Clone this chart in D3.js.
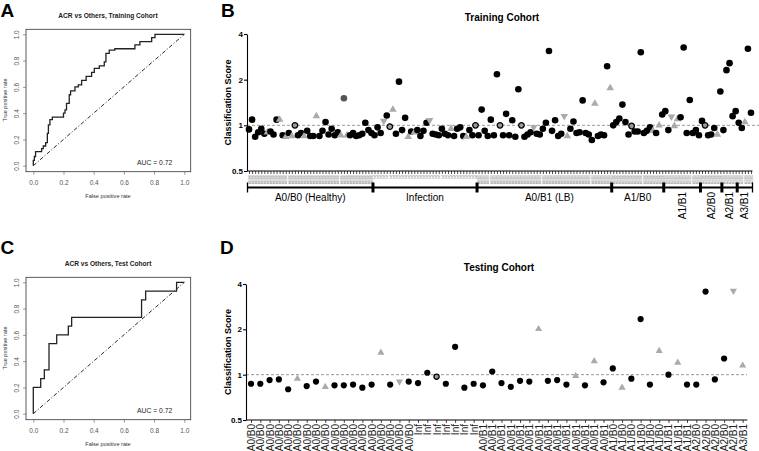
<!DOCTYPE html>
<html><head><meta charset="utf-8">
<script src="https://cdn.jsdelivr.net/npm/d3@7"></script>
<style>body{margin:0;background:#fff}svg{display:block;font-family:"Liberation Sans",Arial,Helvetica,sans-serif}</style>
</head><body><svg id="c" width="759" height="451"></svg>
<script>
// ---------- ROC data ----------
const rocTrainFpr = [0,0,0.007,0.015,0.055,0.066,0.082,0.093,0.1,0.11,0.126,0.2,0.21,0.22,0.238,0.247,0.276,0.298,0.32,0.35,0.386,0.404,0.437,0.47,0.481,0.503,0.54,0.673,0.706,0.784,0.806,1];
const rocTrainTpr = [0,0.04,0.07,0.107,0.13,0.15,0.175,0.246,0.31,0.35,0.37,0.40,0.425,0.475,0.54,0.57,0.60,0.615,0.65,0.68,0.71,0.74,0.76,0.79,0.855,0.88,0.89,0.92,0.945,0.975,1,1];
const rocTestFpr = [0,0,0.049,0.073,0.104,0.155,0.232,0.254,0.717,0.744,0.949,1];
const rocTestTpr = [0,0.2,0.267,0.333,0.533,0.6,0.667,0.733,0.867,0.933,1,1];
const rocTicks = [0,0.2,0.4,0.6,0.8,1.0];
const aucTrain = "0.72", aucTest = "0.72";

// ---------- Training cohort ----------
const trainGroups = ["A0/B0 (Healthy)","Infection","A0/B1 (LB)","A1/B0","A1/B1","A2/B0","A2/B1","A3/B1"];
const trainShort = ["A0/B0","Inf","A0/B1","A1/B0","A1/B1","A2/B0","A2/B1","A3/B1"];
const trainGroupSizes = [41,34,44,17,12,7,5,5];
const trainScores = [
 0.94,1.09,0.84,0.90,0.95,0.88,0.90,0.91,0.87,1.09, 1.09,0.86,0.84,0.89,0.85,1.0,0.86,0.89,0.85,0.92, 0.85,0.85,1.15,0.85,0.92,1.05,0.87,0.95,0.86,0.90, 0.86,1.51,0.86,0.86,0.89,0.85,0.86,0.88,1.04,0.93,0.89,
 0.86,0.97,0.89,1.07,1.16,0.98,1.27,0.88,1.94,0.93, 1.12,0.84,0.91,0.90,0.93,0.85,0.92,1.04,1.08,0.88, 0.87,0.86,0.95,0.88,0.86,0.95,0.85,0.95,0.97,0.85, 0.84,0.93,0.86,1.0,
 0.86,1.27,0.92,0.85,1.09,0.86,2.17,1.0,0.86,1.19, 0.86,1.08,0.84,1.73,1.0,0.84,0.87,0.90,0.97,0.88, 0.87,0.95,1.04,3.09,0.92,1.08,0.85,0.88,1.15,0.85, 0.95,1.06,0.89,0.90,1.46,0.89,0.87,0.80,1.39,0.85, 0.87,0.86,2.45,1.76,
 1.0,1.05,1.11,1.37,1.05,0.87,0.99,0.91,0.91,3.03, 0.89,0.92,0.97,0.92,0.89,1.0,1.18,
 1.24,0.93,1.14,0.99,1.10,1.13,3.26,0.89,1.47,0.89,0.93,0.86,
 1.07,1.0,0.86,0.87,0.96,0.87,1.67,
 0.93,2.31,2.57,1.15,1.24,
 1.04,0.96,1.05,3.2,1.21];
// c = black circle, o = ringed grey circle, g = dark grey circle, u = grey triangle up, d = grey triangle down
const trainMarkers = [
 "ccccccuccc ucucuoccuc ccuccccccc ugucccccccc",
 "cccdcouccc cucuccccdc cccccucccc ucco",
 "cccccccocc ccccocccdc ccccccccdu ccccccccuc cccu",
 "ccccccoccc cccucuc",
 "ccduuccccccc",
 "cocccuc",
 "ccccc",
 "ccucc"].join("").replace(/ /g,"");

// ---------- Testing cohort ----------
const testGroups = ["A0/B0","Inf","A0/B1","A1/B0","A1/B1","A2/B0","A2/B1","A3/B1"];
const testGroupSizes = [18,7,14,6,3,4,1,1];
const testScores = [
 0.87,0.87,0.92,0.93,0.80,0.94,0.84,0.90,0.83,0.85, 0.85,0.86,0.82,0.86,1.40,0.86,0.90,0.90,
 0.88,1.03,0.97,0.87,1.53,0.82,0.87,
 0.85,1.05,0.88,0.83,0.91,0.90,2.01,0.91,0.92,0.86, 0.98,0.85,1.23,0.89,
 1.10,0.82,0.94,2.34,0.86,1.44,
 1.0,1.2,0.86,
 0.86,3.56,0.93,1.28,
 3.6,
 1.15];
const testMarkers = [
 "cccccuccuc ccccucdc",
 "ccocccc",
 "ccccccuccc ucuc",
 "cucccu",
 "cuc",
 "cccc",
 "d",
 "u"].join("").replace(/ /g,"");

const yTicks = [0.5,1,2,4];

// ---------- drawing ----------
const svg = d3.select("#c");
const FONT = '"Liberation Sans",Arial,Helvetica,sans-serif';

function letter(t,x,y){
  svg.append("text").attr("x",x).attr("y",y).attr("font-size",19).attr("font-weight","bold").text(t);
}
letter("A",0.5,17.3); letter("B",221,17.3); letter("C",0.5,253.5); letter("D",220,253.5);

function roc(fpr,tpr,auc,title,off){
  const g = svg.append("g");
  const x = d3.scaleLinear().domain([0,1]).range([33.3,184.3]);
  const y = d3.scaleLinear().domain([0,1]).range([165.7+off,34.3+off]);
  g.append("rect").attr("x",26).attr("y",29.3+off).attr("width",164.7).attr("height",142.4)
   .attr("fill","none").attr("stroke","#333").attr("stroke-width",0.8);
  const xa = g.append("g").attr("transform",`translate(0,${171.7+off})`)
   .call(d3.axisBottom(x).tickValues(rocTicks).tickFormat(d3.format(".1f")).tickSize(3).tickSizeOuter(0));
  xa.select(".domain").remove();
  xa.selectAll("line").attr("stroke","#555").attr("stroke-width",0.6);
  xa.selectAll("text").attr("font-size",6.5).attr("fill","#555").attr("y",8.5).attr("font-family",FONT);
  const ya = g.append("g").attr("transform",`translate(26,0)`)
   .call(d3.axisLeft(y).tickValues(rocTicks).tickFormat(d3.format(".1f")).tickSize(3).tickSizeOuter(0));
  ya.select(".domain").remove();
  ya.selectAll("line").attr("stroke","#555").attr("stroke-width",0.6);
  ya.selectAll("text").attr("font-size",6.5).attr("fill","#555").attr("font-family",FONT)
   .attr("x",null).attr("dy",null).attr("text-anchor","middle")
   .attr("transform","translate(-7,0) rotate(-90)");
  g.append("text").attr("x",108).attr("y",17.5+off).attr("text-anchor","middle")
   .attr("font-size",6.6).attr("font-weight","bold").attr("fill","#222").text(title);
  g.append("text").attr("x",108).attr("y",198+off).attr("text-anchor","middle")
   .attr("font-size",5.6).attr("fill","#333").text("False positive rate");
  g.append("text").attr("transform",`translate(7,${100+off}) rotate(-90)`).attr("text-anchor","middle")
   .attr("font-size",5.6).attr("fill","#333").text("True positive rate");
  g.append("text").attr("x",137).attr("y",164.5+off).attr("font-size",6.8).attr("fill","#222")
   .text("AUC  = "+auc);
  g.append("line").attr("x1",x(0)).attr("y1",y(0)).attr("x2",x(1)).attr("y2",y(1))
   .attr("stroke","#111").attr("stroke-width",0.9).attr("stroke-dasharray","4,2,1,2");
  const pts = fpr.map((f,i)=>[f,tpr[i]]);
  g.append("path").attr("d",d3.line().x(d=>x(d[0])).y(d=>y(d[1])).curve(d3.curveStepAfter)(pts))
   .attr("fill","none").attr("stroke","#222").attr("stroke-width",1.3);
}
roc(rocTrainFpr,rocTrainTpr,aucTrain,"ACR vs Others, Training Cohort",0);
roc(rocTestFpr,rocTestTpr,aucTest,"ACR vs Others, Test Cohort",248);

function marker(s, code, r){
  if(code==="u"||code==="d"){
    s.append("path").attr("d",d3.symbol(d3.symbolTriangle, r*r*2.3)())
     .attr("transform", code==="d" ? "rotate(180)" : null)
     .attr("fill","#aaaaaa");
  } else if(code==="o"){
    s.append("circle").attr("r",r-0.5).attr("fill","#9a9a9a").attr("stroke","#000").attr("stroke-width",1.3);
  } else if(code==="g"){
    s.append("circle").attr("r",r).attr("fill","#555");
  } else {
    s.append("circle").attr("r",r).attr("fill","#000");
  }
}

function expand(groups,sizes){
  const out=[]; sizes.forEach((s,gi)=>{ for(let k=0;k<s;k++) out.push(groups[gi]); }); return out;
}

function scorePanel(cfg){
  const g = svg.append("g");
  const y = d3.scaleLog().base(2).domain([0.5,4]).range([cfg.y0,cfg.y1]);
  const n = cfg.scores.length;
  const x = d3.scalePoint().domain(d3.range(n)).range(cfg.xr).padding(0.5);
  g.append("line").attr("x1",cfg.axisX).attr("x2",cfg.dashEnd).attr("y1",y(1)).attr("y2",y(1))
   .attr("stroke","#9a9a9a").attr("stroke-width",1).attr("stroke-dasharray","3,2");
  const ya = g.append("g").attr("transform",`translate(${cfg.axisX},0)`)
   .call(d3.axisLeft(y).tickValues(yTicks).tickFormat(d=>d).tickSize(3).tickSizeOuter(0));
  ya.selectAll("path,line").attr("stroke","#000").attr("stroke-width",1.1);
  ya.selectAll("text").attr("font-size",8).attr("font-weight","bold").attr("font-family",FONT).attr("x",-4);
  const xa = g.append("g").attr("transform",`translate(0,${cfg.y0})`)
   .call(d3.axisBottom(x).tickFormat(i=>cfg.labels[i]).tickSize(3).tickSizeOuter(0));
  xa.select(".domain").attr("d",`M${cfg.axisX},0H${cfg.xr[1]}`).attr("stroke","#000").attr("stroke-width",1.1);
  xa.selectAll("line").attr("stroke","#000").attr("stroke-width",0.7);
  xa.selectAll("text").attr("font-size",cfg.lblSize).attr("fill",cfg.lblColor).attr("font-family",FONT)
   .attr("transform","rotate(-90)").attr("x",-4).attr("y",0).attr("dy","0.35em").attr("text-anchor","end");
  g.append("text").attr("x",cfg.titleX).attr("y",cfg.titleY).attr("text-anchor","middle")
   .attr("font-size",10).attr("font-weight","bold").text(cfg.title);
  g.append("text").attr("transform",`translate(230.5,${(cfg.y0+cfg.y1)/2}) rotate(-90)`)
   .attr("text-anchor","middle").attr("font-size",9).attr("font-weight","bold").text("Classification Score");
  const pts = g.append("g").selectAll("g").data(cfg.scores).join("g")
   .attr("transform",(d,i)=>`translate(${x(i)},${y(d)})`);
  pts.each(function(d,i){ marker(d3.select(this), cfg.markers[i], cfg.r); });
  return {x,y};
}

// Panel B
const B = scorePanel({scores:trainScores, markers:trainMarkers, labels:expand(trainShort,trainGroupSizes),
  y0:171, y1:34, xr:[247.5,752.5], axisX:247, dashEnd:759, lblSize:3.4, lblColor:"#8a8a8a",
  title:"Training Cohort", titleX:502, titleY:20.5, r:3.3});
{
  const step = B.x.step();
  let start = 0;
  const bg = svg.append("g");
  const bY = 187.5;
  bg.append("line").attr("x1",247.5).attr("x2",752.5).attr("y1",bY).attr("y2",bY).attr("stroke","#000").attr("stroke-width",2);
  trainGroupSizes.forEach((s,gi)=>{
    const x0 = B.x(start)-step/2, x1 = B.x(start+s-1)+step/2;
    const cx = (x0+x1)/2;
    if(gi===0) bg.append("line").attr("x1",x0).attr("x2",x0).attr("y1",bY-5).attr("y2",bY+5).attr("stroke","#000").attr("stroke-width",1.3);
    bg.append("line").attr("x1",x1).attr("x2",x1).attr("y1",bY-5).attr("y2",bY+5).attr("stroke","#000")
      .attr("stroke-width", gi===trainGroupSizes.length-1 ? 1.3 : 3);
    if(s>=15){
      bg.append("text").attr("x",cx + (gi===2?5:0)).attr("y",201).attr("text-anchor","middle").attr("font-size",10).text(trainGroups[gi]);
    } else {
      bg.append("text").attr("transform",`translate(${cx+3.6},192) rotate(-90)`).attr("text-anchor","end")
        .attr("font-size",10).text(trainGroups[gi]);
    }
    start += s;
  });
}

// Panel D
scorePanel({scores:testScores, markers:testMarkers, labels:expand(testGroups,testGroupSizes),
  y0:420, y1:284, xr:[246.4,747.3], axisX:246, dashEnd:747, lblSize:10, lblColor:"#222",
  title:"Testing Cohort", titleX:499, titleY:270.5, r:3.1});
</script></body></html>
